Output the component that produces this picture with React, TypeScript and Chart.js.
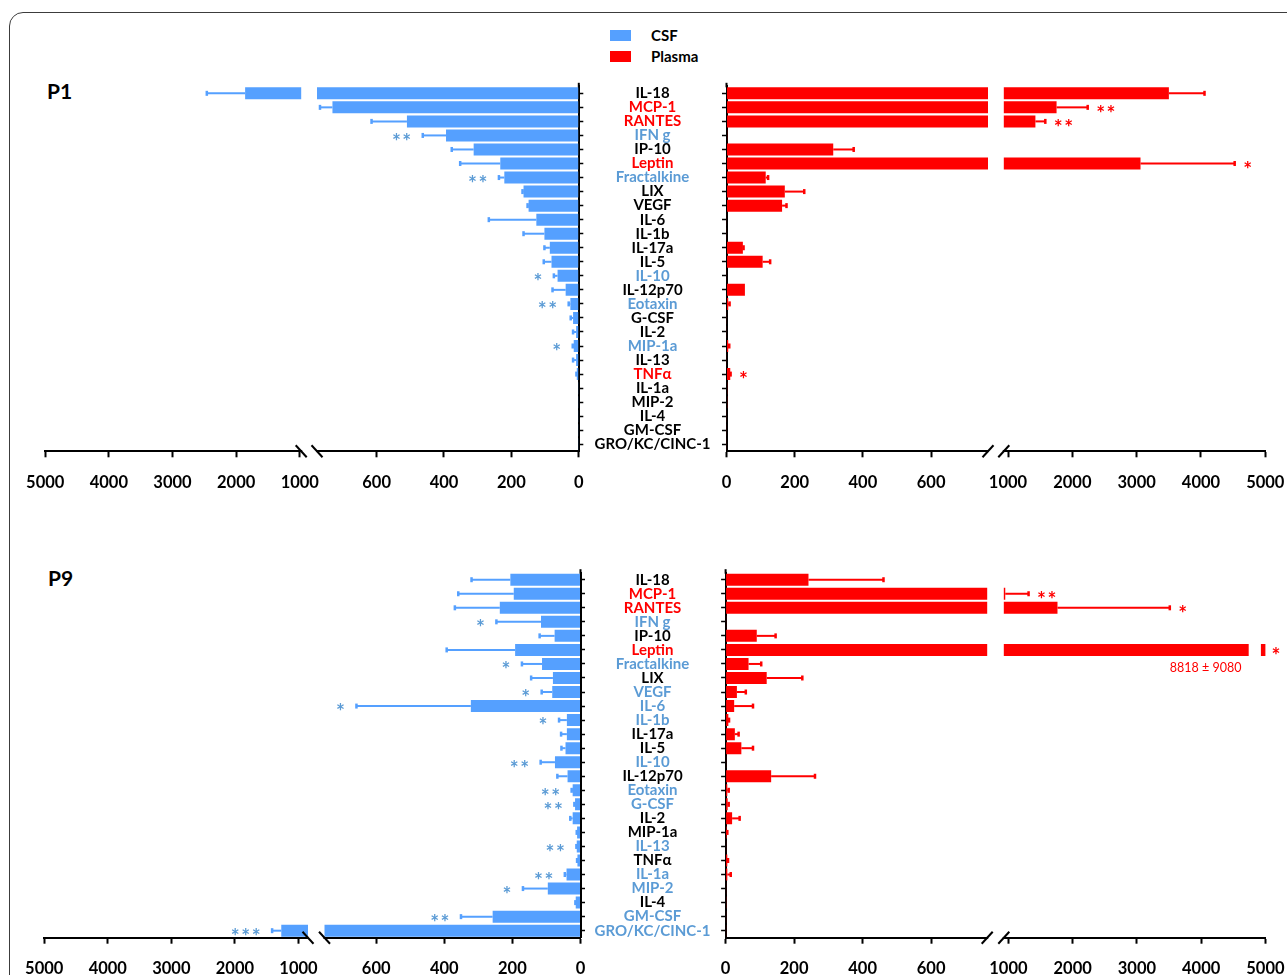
import React, { useEffect, useRef } from 'react';
import { Chart, registerables, LinearScale } from 'chart.js';

Chart.register(...registerables);

// ---------------- data ----------------
const categories = ['IL-18', 'MCP-1', 'RANTES', 'IFN g', 'IP-10', 'Leptin', 'Fractalkine', 'LIX', 'VEGF', 'IL-6', 'IL-1b', 'IL-17a', 'IL-5', 'IL-10', 'IL-12p70', 'Eotaxin', 'G-CSF', 'IL-2', 'MIP-1a', 'IL-13', 'TNFα', 'IL-1a', 'MIP-2', 'IL-4', 'GM-CSF', 'GRO/KC/CINC-1'];
const xTickValues = [0, 200, 400, 600, 1000, 2000, 3000, 4000, 5000];
const seriesNames = ['CSF', 'Plasma'];
const panelNames = ['P1', 'P9'];

// label group: c = higher in CSF (blue), p = higher in plasma (red), n = none (black)
const p1Groups = ['n', 'p', 'p', 'c', 'n', 'p', 'c', 'n', 'n', 'n', 'n', 'n', 'n', 'c', 'n', 'c', 'n', 'n', 'c', 'n', 'p', 'n', 'n', 'n', 'n', 'n'];
const p9Groups = ['n', 'p', 'p', 'c', 'n', 'p', 'c', 'n', 'c', 'c', 'c', 'n', 'n', 'c', 'n', 'c', 'c', 'n', 'n', 'c', 'n', 'c', 'c', 'n', 'c', 'c'];

const p1CsfMean = [1859, 731, 510, 394, 312, 233, 221, 164, 149, 126, 102, 86, 81, 63, 39, 25, 17, 8, 15, 8, 6, 2, 2, 1, 1, 1];
const p1CsfErr = [602, 37, 105, 69, 65, 119, 16, 3, 3, 141, 62, 16, 23, 11, 39, 5, 7, 9, 3, 9, 1, 0, 0, 0, 0, 0];
const p1CsfStars = ['', '', '', '**', '', '', '**', '', '', '', '', '', '', '*', '', '**', '', '', '*', '', '', '', '', '', '', ''];

const p1PlasmaMean = [3501, 1755, 1426, 2, 313, 3060, 115, 171, 163, 1, 1, 48, 106, 1, 54, 5, 1, 1, 5, 1, 11, 2, 2, 1, 1, 1];
const p1PlasmaErr = [554, 484, 154, 0, 60, 1464, 7, 57, 13, 0, 0, 2, 22, 0, 0, 4, 0, 0, 3, 0, 1, 0, 0, 0, 0, 0];
const p1PlasmaStars = ['', '**', '**', '', '', '*', '', '', '', '', '', '', '', '', '', '', '', '', '', '', '*', '', '', '', '', ''];

const p9CsfMean = [206, 196, 237, 116, 76, 192, 113, 81, 83, 322, 40, 40, 44, 75, 38, 23, 16, 23, 10, 11, 9, 41, 96, 14, 258, 1271];
const p9CsfErr = [114, 163, 132, 131, 44, 201, 59, 64, 31, 336, 23, 17, 12, 42, 30, 3, 2, 7, 1, 1, 1, 5, 73, 1, 93, 144];
const p9CsfStars = ['', '', '', '*', '', '', '*', '', '*', '*', '*', '', '', '**', '', '**', '**', '', '', '**', '', '**', '*', '', '**', '***'];

const p9PlasmaMean = [242, 965, 1764, 1, 91, 8818, 67, 120, 33, 25, 8, 27, 46, 1, 133, 5, 6, 19, 3, 1, 5, 5, 1, 2, 1, 1];
const p9PlasmaErr = [219, 349, 1748, 0, 55, 9080, 37, 104, 26, 55, 2, 11, 34, 0, 128, 4, 3, 22, 2, 0, 2, 10, 0, 0, 0, 0];
const p9PlasmaStars = ['', '**', '*', '', '', '*', '', '', '', '', '', '', '', '', '', '', '', '', '', '', '', '', '', '', '', ''];

// ---------------- styling ----------------
const CSF_BAR = '#55A0FF';
const PLASMA_BAR = '#FF0000';
const BLUE_TEXT = '#5B9BD5';
const RED_TEXT = '#FF0000';
const groupColor: Record<string, string> = { c: BLUE_TEXT, p: RED_TEXT, n: '#000000' };
const FONT = 'Lato, "Open Sans", sans-serif';
const AXIS_MAX = 5000;
const TRUNC_GAP = [4740, 4930];
const LABEL_CENTER_X = 652.5;

type Brk = { x0: number; k: number; d1000: number; d5000: number; gapStartD: number; gapEndD: number };

function brkDist(v: number, p: Brk) {
  const vA = p.gapStartD / p.k;
  if (v <= vA) return v * p.k;
  if (v >= 1000) return p.d1000 + ((v - 1000) * (p.d5000 - p.d1000)) / 4000;
  return p.gapStartD + ((v - vA) / (1000 - vA)) * (p.d1000 - p.gapStartD);
}
function brkInv(d: number, p: Brk) {
  if (d <= p.gapStartD) return d / p.k;
  if (d >= p.d1000) return 1000 + ((d - p.d1000) * 4000) / (p.d5000 - p.d1000);
  const vA = p.gapStartD / p.k;
  return vA + ((d - p.gapStartD) / (p.d1000 - p.gapStartD)) * (1000 - vA);
}

function makeBrokenScale(id: string, p: Brk): any {
  class BrokenScale extends (LinearScale as any) {
    static id = id;
    static defaults = {};
    buildTicks() {
      return xTickValues.map((value) => ({ value }));
    }
    getPixelForValue(value: number) {
      if (value === null || value === undefined || isNaN(value)) return NaN;
      return (this as any).getPixelForDecimal(brkDist(value, p) / p.d5000);
    }
    getValueForPixel(pixel: number) {
      return brkInv((this as any).getDecimalForPixel(pixel) * p.d5000, p);
    }
  }
  return BrokenScale;
}

type SideCfg = {
  key: string;
  side: 'left' | 'right';
  mean: number[];
  err: number[];
  stars: string[];
  groups: string[];
  color: string;
  starColor: string;
  brk: Brk;
  plotTop: number;
};

const PLOT_H = 365;
const P1_TOP = 86.3;
const P9_TOP = 572.7;

const sides: SideCfg[] = [
  { key: 'p1csf', side: 'left', mean: p1CsfMean, err: p1CsfErr, stars: p1CsfStars, groups: p1Groups, color: CSF_BAR, starColor: BLUE_TEXT, plotTop: P1_TOP,
    brk: { x0: 578.8, k: 0.337, d1000: 279, d5000: 533.6, gapStartD: 261.8, gapEndD: 277.6 } },
  { key: 'p1pla', side: 'right', mean: p1PlasmaMean, err: p1PlasmaErr, stars: p1PlasmaStars, groups: p1Groups, color: PLASMA_BAR, starColor: RED_TEXT, plotTop: P1_TOP,
    brk: { x0: 726.5, k: 0.341, d1000: 281.5, d5000: 538.8, gapStartD: 261.5, gapEndD: 277.3 } },
  { key: 'p9csf', side: 'left', mean: p9CsfMean, err: p9CsfErr, stars: p9CsfStars, groups: p9Groups, color: CSF_BAR, starColor: BLUE_TEXT, plotTop: P9_TOP,
    brk: { x0: 580.5, k: 0.3405, d1000: 282, d5000: 536.3, gapStartD: 256, gapEndD: 272.5 } },
  { key: 'p9pla', side: 'right', mean: p9PlasmaMean, err: p9PlasmaErr, stars: p9PlasmaStars, groups: p9Groups, color: PLASMA_BAR, starColor: RED_TEXT, plotTop: P9_TOP,
    brk: { x0: 725.6, k: 0.3425, d1000: 282.8, d5000: 539.8, gapStartD: 261.6, gapEndD: 278.2 } },
];

sides.forEach((s) => {
  Chart.register(makeBrokenScale('broken_' + s.key, s.brk));
});

const X_AXIS_H = 40;
const Y_TICK_LEN = 4.5;
const CAT_FONT_SIZE = 15;
const TICK_FONT_SIZE = 16.5;
const STAR_FONT_SIZE = 21;

function geometry(cfg: SideCfg) {
  const isLeft = cfg.side === 'left';
  const top = Math.floor(cfg.plotTop - 26);
  const bottom = Math.ceil(cfg.plotTop + PLOT_H + X_AXIS_H);
  let left: number, width: number, yW: number, padL: number, padR: number;
  if (isLeft) {
    left = 0;
    width = Math.ceil(cfg.brk.x0 + 6);
    yW = width - cfg.brk.x0;
    padL = cfg.brk.x0 - cfg.brk.d5000 - left;
    padR = 0;
  } else {
    const partner = sides.find((s) => s.side === 'left' && s.plotTop === cfg.plotTop)!;
    left = Math.ceil(partner.brk.x0 + 6);
    width = 1287 - left;
    yW = cfg.brk.x0 - left;
    padL = 0;
    padR = 1287 - (cfg.brk.x0 + cfg.brk.d5000);
  }
  return { left, top, width, height: bottom - top, yW, padL, padR, padT: cfg.plotTop - top, padB: bottom - (cfg.plotTop + PLOT_H + X_AXIS_H) };
}

function widestLabel(font: string) {
  const c = document.createElement('canvas').getContext('2d')!;
  c.font = font;
  return Math.max(...categories.map((l) => c.measureText(l).width));
}

function buildChart(canvas: HTMLCanvasElement, cfg: SideCfg) {
  const isLeft = cfg.side === 'left';
  const g = geometry(cfg);
  const catFont = `bold ${CAT_FONT_SIZE}px ${FONT}`;
  const widest = widestLabel(catFont);
  const labelPad = Math.max(0, cfg.brk.x0 - Y_TICK_LEN - widest / 2 - LABEL_CENTER_X);

  const annot = {
    id: 'annot_' + cfg.key,
    afterDatasetsDraw(chart: any) {
      const ctx = chart.ctx as CanvasRenderingContext2D;
      const xs = chart.scales.x;
      const area = chart.chartArea;
      const meta = chart.getDatasetMeta(0);
      const dir = isLeft ? -1 : 1;
      const g1 = xs.getPixelForDecimal(cfg.brk.gapStartD / cfg.brk.d5000);
      const g2 = xs.getPixelForDecimal(cfg.brk.gapEndD / cfg.brk.d5000);
      ctx.save();
      meta.data.forEach((el: any, i: number) => {
        const v = cfg.mean[i];
        const e = cfg.err[i];
        const y = el.y;
        const h = el.height;
        const barEnd = xs.getPixelForValue(v);
        const truncated = v > AXIS_MAX;
        ctx.fillStyle = '#ffffff';
        if (isLeft ? barEnd < g1 : barEnd > g1) {
          ctx.fillRect(Math.min(g1, g2), y - h / 2 - 1, Math.abs(g2 - g1), h + 2);
        }
        if (truncated) {
          const t1 = xs.getPixelForValue(TRUNC_GAP[0]);
          const t2 = xs.getPixelForValue(TRUNC_GAP[1]);
          ctx.fillRect(Math.min(t1, t2), y - h / 2 - 1, Math.abs(t2 - t1), h + 2);
        }
        let endX = truncated ? (isLeft ? area.left : area.right) : barEnd;
        if (!truncated && e > 0) {
          const ex = xs.getPixelForValue(v + e);
          ctx.strokeStyle = cfg.color;
          ctx.lineWidth = 2;
          ctx.beginPath();
          ctx.moveTo(barEnd, y);
          ctx.lineTo(ex, y);
          ctx.stroke();
          ctx.fillStyle = cfg.color;
          ctx.fillRect(ex - 1.25, y - 2.5, 2.5, 5);
          endX = ex;
        }
        const s = cfg.stars[i];
        if (s) {
          ctx.font = `bold ${STAR_FONT_SIZE}px ${FONT}`;
          (ctx as any).letterSpacing = '1.5px';
          ctx.fillStyle = cfg.starColor;
          ctx.textAlign = isLeft ? 'right' : 'left';
          ctx.textBaseline = 'alphabetic';
          const gap = truncated ? 6 : isLeft ? 10 : 8.5;
          ctx.fillText(s, endX + dir * gap, y + 13.3);
          (ctx as any).letterSpacing = '0px';
        }
        if (truncated) {
          ctx.font = `12.5px ${FONT}`;
          ctx.fillStyle = cfg.starColor;
          ctx.textAlign = isLeft ? 'left' : 'right';
          ctx.textBaseline = 'middle';
          ctx.fillText(`${v} ± ${e}`, isLeft ? area.left + 24 : area.right - 24, y + 18);
        }
      });
      ctx.restore();
    },
    afterDraw(chart: any) {
      const ctx = chart.ctx as CanvasRenderingContext2D;
      const xs = chart.scales.x;
      const area = chart.chartArea;
      const g1 = xs.getPixelForDecimal(cfg.brk.gapStartD / cfg.brk.d5000);
      const g2 = xs.getPixelForDecimal(cfg.brk.gapEndD / cfg.brk.d5000);
      const yA = area.bottom;
      ctx.save();
      ctx.fillStyle = '#ffffff';
      ctx.fillRect(Math.min(g1, g2) + 1, yA - 2, Math.abs(g2 - g1) - 2, 4);
      ctx.strokeStyle = '#000000';
      ctx.lineWidth = 2;
      [g1, g2].forEach((cx) => {
        ctx.beginPath();
        if (isLeft) {
          ctx.moveTo(cx - 5.5, yA - 6);
          ctx.lineTo(cx + 5.5, yA + 6);
        } else {
          ctx.moveTo(cx - 5.5, yA + 6);
          ctx.lineTo(cx + 5.5, yA - 6);
        }
        ctx.stroke();
      });
      const x0 = isLeft ? area.right : area.left;
      ctx.beginPath();
      ctx.moveTo(x0, area.top - 3.5);
      ctx.lineTo(x0, area.top + 1);
      ctx.stroke();
      ctx.restore();
    },
  };

  return new Chart(canvas, {
    type: 'bar',
    data: {
      labels: categories,
      datasets: [
        {
          label: isLeft ? seriesNames[0] : seriesNames[1],
          data: cfg.mean,
          backgroundColor: cfg.color,
          borderWidth: 0,
          barPercentage: 0.855,
          categoryPercentage: 1,
          clip: 0 as any,
        },
      ],
    },
    options: {
      indexAxis: 'y',
      animation: false,
      responsive: false,
      events: [],
      layout: { padding: { left: g.padL, right: g.padR, top: g.padT, bottom: g.padB } },
      plugins: { legend: { display: false }, tooltip: { enabled: false } },
      scales: {
        x: {
          type: 'broken_' + cfg.key,
          min: 0,
          max: AXIS_MAX,
          reverse: isLeft,
          z: 1,
          afterFit: (s: any) => {
            s.height = X_AXIS_H;
            s.paddingLeft = 0;
            s.paddingRight = 0;
          },
          grid: { display: true, drawOnChartArea: false, drawTicks: true, tickLength: 6, tickWidth: 2, tickColor: '#000000' },
          border: { display: true, color: '#000000', width: 2 },
          ticks: {
            autoSkip: false,
            maxRotation: 0,
            minRotation: 0,
            padding: 15,
            color: '#000000',
            font: { family: FONT, weight: 'bold', size: TICK_FONT_SIZE },
            callback: (v: any) => String(v),
          },
        } as any,
        y: {
          type: 'category',
          position: isLeft ? 'right' : 'left',
          z: 1,
          afterFit: (s: any) => {
            s.width = g.yW;
            s.paddingTop = 0;
            s.paddingBottom = 0;
          },
          grid: { display: true, offset: false, drawOnChartArea: false, drawTicks: true, tickLength: Y_TICK_LEN, tickWidth: 1.5, tickColor: '#000000' },
          border: { display: true, color: '#000000', width: 2 },
          ticks: {
            display: !isLeft,
            autoSkip: false,
            crossAlign: 'center',
            padding: labelPad,
            color: (c: any) => groupColor[cfg.groups[c.index]] || '#000000',
            font: { family: FONT, weight: 'bold', size: CAT_FONT_SIZE },
          },
        } as any,
      },
    },
    plugins: [annot as any],
  });
}

function SideChart({ cfg }: { cfg: SideCfg }) {
  const ref = useRef<HTMLCanvasElement>(null);
  const g = geometry(cfg);
  useEffect(() => {
    const chart = buildChart(ref.current!, cfg);
    return () => chart.destroy();
  }, []);
  return (
    <canvas
      ref={ref}
      width={g.width}
      height={g.height}
      style={{ position: 'absolute', left: g.left, top: g.top, width: g.width, height: g.height }}
    />
  );
}

export default function App() {
  const textBase: React.CSSProperties = { position: 'absolute', fontFamily: FONT, fontWeight: 700, whiteSpace: 'nowrap', color: '#000' };
  return (
    <div style={{ position: 'absolute', left: 0, top: 0, width: 1287, height: 975, overflow: 'hidden', background: '#ffffff' }}>
      <div style={{ position: 'absolute', left: 9, top: 12, width: 1400, height: 1100, border: '1px solid #3c3c3c', borderRadius: 14, boxSizing: 'border-box' }} />
      {/* legend */}
      <div style={{ position: 'absolute', left: 610, top: 30, width: 21, height: 11, background: CSF_BAR }} />
      <div style={{ ...textBase, left: 651, top: 27.7, fontSize: 15, lineHeight: '15px' }}>{seriesNames[0]}</div>
      <div style={{ position: 'absolute', left: 610, top: 51, width: 21, height: 11, background: PLASMA_BAR }} />
      <div style={{ ...textBase, left: 651, top: 48.5, fontSize: 15, lineHeight: '15px' }}>{seriesNames[1]}</div>
      {/* panel titles */}
      <div style={{ ...textBase, left: 47, top: 79.7, fontSize: 21, lineHeight: '21px' }}>{panelNames[0]}</div>
      <div style={{ ...textBase, left: 48, top: 567, fontSize: 21, lineHeight: '21px' }}>{panelNames[1]}</div>
      {sides.map((s) => (
        <SideChart key={s.key} cfg={s} />
      ))}
    </div>
  );
}
